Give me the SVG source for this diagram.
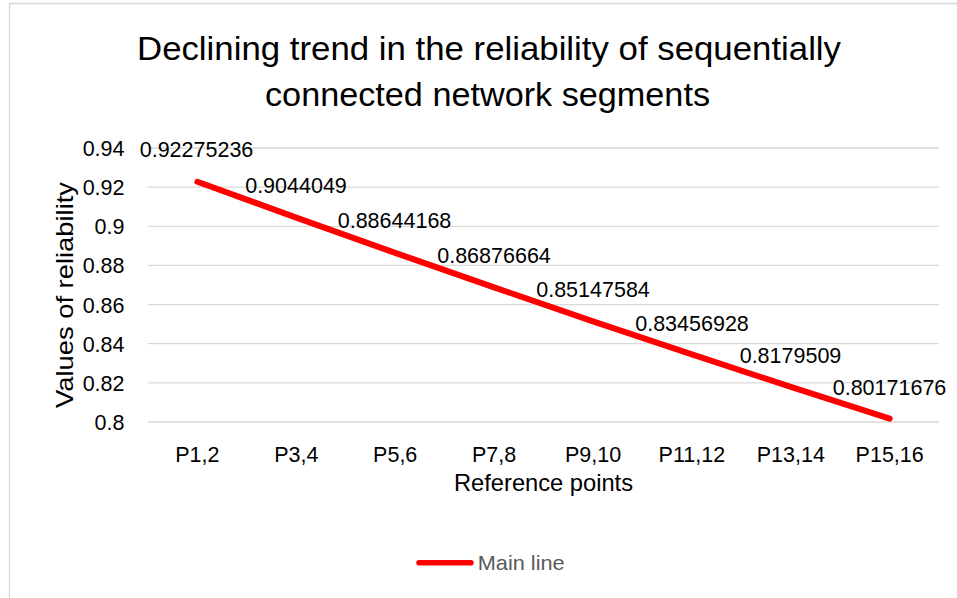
<svg xmlns="http://www.w3.org/2000/svg" width="957" height="598" viewBox="0 0 957 598">
<style>
text{font-family:"Liberation Sans",Arial,sans-serif;fill:#000}
.t{font-size:33px}
.lab{font-size:21.5px}
.tick{font-size:21.5px;text-anchor:end}
.cat{font-size:21.5px;text-anchor:middle}
.dl{font-size:21.5px;text-anchor:middle}
.ax{font-size:24px;text-anchor:middle}
.grid line{stroke:#D9D9D9;stroke-width:1.3}
.leg{font-size:21px;fill:#595959}
</style>
<rect width="957" height="598" fill="#fff"/>
<path d="M9.5 598 V3.5 H957" fill="none" stroke="#D9D9D9" stroke-width="1.3"/>
<g id="title">
<text class="t" x="489" y="60" text-anchor="middle" textLength="704" lengthAdjust="spacingAndGlyphs">Declining trend in the reliability of sequentially</text>
<text class="t" x="487.5" y="106" text-anchor="middle" textLength="445" lengthAdjust="spacingAndGlyphs">connected network segments</text>
</g>
<g id="gridlines" class="grid">
<line x1="148" y1="148" x2="939" y2="148"/>
<line x1="148" y1="187.1" x2="939" y2="187.1"/>
<line x1="148" y1="226.3" x2="939" y2="226.3"/>
<line x1="148" y1="265.4" x2="939" y2="265.4"/>
<line x1="148" y1="304.6" x2="939" y2="304.6"/>
<line x1="148" y1="343.7" x2="939" y2="343.7"/>
<line x1="148" y1="382.9" x2="939" y2="382.9"/>
<line x1="148" y1="422" x2="939" y2="422"/>
</g>
<g id="y-axis">
<text class="tick" x="124.5" y="156">0.94</text>
<text class="tick" x="124.5" y="195.1">0.92</text>
<text class="tick" x="124.5" y="234.3">0.9</text>
<text class="tick" x="124.5" y="273.4">0.88</text>
<text class="tick" x="124.5" y="312.6">0.86</text>
<text class="tick" x="124.5" y="351.7">0.84</text>
<text class="tick" x="124.5" y="390.9">0.82</text>
<text class="tick" x="124.5" y="430">0.8</text>
<text class="ax" transform="translate(73 295) rotate(-90)" x="0" y="0" textLength="226" lengthAdjust="spacingAndGlyphs">Values of reliability</text>
</g>
<g id="x-axis">
<text class="cat" x="197.4" y="462">P1,2</text>
<text class="cat" x="296.3" y="462">P3,4</text>
<text class="cat" x="395.2" y="462">P5,6</text>
<text class="cat" x="494.1" y="462">P7,8</text>
<text class="cat" x="593" y="462">P9,10</text>
<text class="cat" x="691.9" y="462">P11,12</text>
<text class="cat" x="790.8" y="462">P13,14</text>
<text class="cat" x="889.7" y="462">P15,16</text>
<text class="ax" x="543.5" y="491" textLength="179" lengthAdjust="spacingAndGlyphs">Reference points</text>
</g>
<g id="connectors">
<polyline id="main-line" points="197.4,181.8 296.3,217.6 395.2,252.8 494.1,287.4 593,321.3 691.9,354.3 790.8,386.9 889.7,418.6" fill="none" stroke="#FF0000" stroke-width="6" stroke-linecap="round" stroke-linejoin="round"/>
</g>
<g id="data-labels">
<text class="dl" x="196.5" y="157">0.92275236</text>
<text class="dl" x="296" y="193.3">0.9044049</text>
<text class="dl" x="394.5" y="228.3">0.88644168</text>
<text class="dl" x="494" y="262.7">0.86876664</text>
<text class="dl" x="593" y="296.5">0.85147584</text>
<text class="dl" x="692" y="330.7">0.83456928</text>
<text class="dl" x="790.5" y="362.7">0.8179509</text>
<text class="dl" x="889.5" y="395">0.80171676</text>
</g>
<g id="legend">
<line x1="419" y1="562.7" x2="471" y2="562.7" stroke="#FF0000" stroke-width="5.5" stroke-linecap="round"/>
<text class="leg" x="477.7" y="570" textLength="87" lengthAdjust="spacingAndGlyphs">Main line</text>
</g>
</svg>
